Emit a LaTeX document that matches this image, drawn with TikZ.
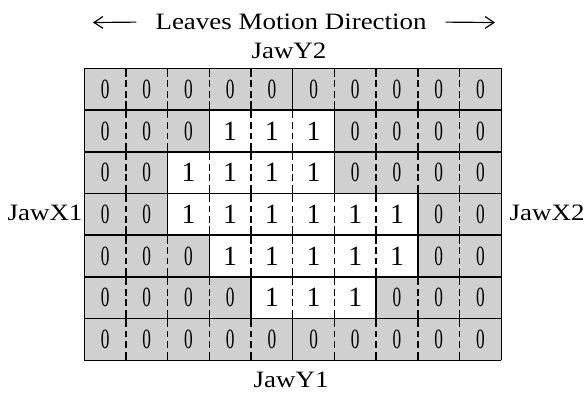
\documentclass[tikz,border=0pt]{standalone}
\usepackage{fontspec}
\usepackage{graphicx}
\setmainfont[FakeStretch=1.15]{Liberation Serif}
\newfontfamily\digitfont{Liberation Serif}
\usetikzlibrary{arrows.meta, positioning}
\definecolor{leafgray}{RGB}{208,208,208}
\newcommand{\narrowzero}{\scalebox{0.62}[1]{0}}

\begin{document}
\begin{tikzpicture}[
  leaf/.style={fill=leafgray},
  gridline/.style={line width=1pt, color=black},
  divider/.style={line width=1pt, color=black, dash pattern=on 0.2cm off 0.09cm on 0.16cm off 0.09cm on 0.16cm off 0.09cm on 0.21cm},
  leaftip/.style={line width=1pt, color=black},
  cell/.style={inner sep=0pt, font=\digitfont\fontsize{19}{21}\selectfont},
  jaw/.style={inner sep=1pt, font=\fontsize{16}{18}\selectfont},
  motion/.style={-{Straight Barb[length=6pt, width=8pt]}, line width=0.8pt}
]
  \useasboundingbox (-2.02,1.64) rectangle (11.96,-7.88);

  % leaf pairs: row / left leaf tip / right leaf tip
  \foreach \r/\a/\b in {0/5/5, 1/3/6, 2/2/6, 3/2/8, 4/3/8, 5/4/7, 6/5/5} {
    \fill[leaf] (0,-\r) rectangle (\a,-\r-1);
    \fill[leaf] (\b,-\r) rectangle (10,-\r-1);
  }
  \foreach \r/\a/\b in {0/5/5, 1/3/6, 2/2/6, 3/2/8, 4/3/8, 5/4/7, 6/5/5} {
    \foreach \k in {1,...,9}
      \draw[divider] (\k,-\r) -- (\k,-\r-1);
    \draw[leaftip] (\a,-\r) -- (\a,-\r-1);
    \draw[leaftip] (\b,-\r) -- (\b,-\r-1);
    \foreach \c in {0,...,9} {
      \pgfmathtruncatemacro\v{(\c>=\a)&&(\c<\b)}
      \node[cell] (c-\r-\c) at (\c+0.5,-\r-0.5) {\ifnum\v=0 \narrowzero\else 1\fi};
    }
  }
  \foreach \r in {0,...,7}
    \draw[gridline] (0,-\r) -- (10,-\r);
  \draw[gridline] (0,0) -- (0,-7);
  \draw[gridline] (10,0) -- (10,-7);

  % jaw labels
  \node[jaw] (jawy2) at (4.91,0.41) {JawY2};
  \node[jaw] (jawy1) at (4.96,-7.47) {JawY1};
  \node[jaw] (jawx1) at (-0.94,-3.47) {JawX1};
  \node[jaw] (jawx2) at (11.1,-3.47) {JawX2};

  % motion direction
  \node[jaw, inner xsep=0.45cm] (title) at (4.96,1.11) {Leaves Motion Direction};
  \coordinate (lefttip) at (0.21,1.1);
  \coordinate (righttip) at (9.85,1.1);
  \draw[motion] (title.west) -- (lefttip);
  \draw[motion] (title.east) -- (righttip);
\end{tikzpicture}
\end{document}
